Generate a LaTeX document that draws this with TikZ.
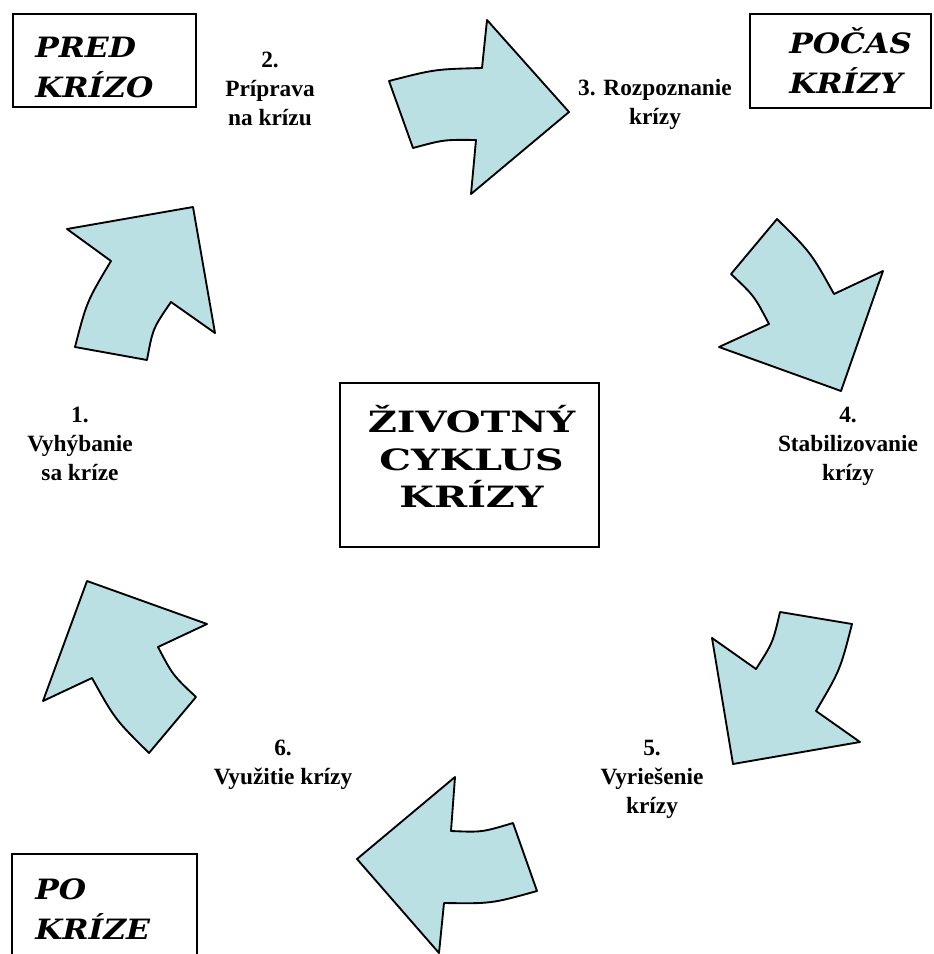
\documentclass[tikz,border=0pt]{standalone}
\usepackage{fontspec}
\setmainfont{Liberation Serif}
\newfontfamily\slabfont[FakeStretch=1.36,BoldFont={DejaVu Serif Bold}]{DejaVu Serif}
\newfontfamily\slabitfont[FakeStretch=1.12,BoldItalicFont={DejaVu Serif Bold Italic}]{DejaVu Serif}
\definecolor{arrowfill}{RGB}{187,224,227}

\begin{document}
\begin{tikzpicture}[x=0.75pt,y=-0.75pt,
  cyclearrow/.style={line width=1.4pt, fill=arrowfill, line join=round},
  framebox/.style={draw, line width=1.4pt, inner sep=0pt},
  steplabel/.style={align=center, inner sep=0pt, font=\fontsize{17.5}{21.75}\selectfont\bfseries},
  phasetext/.style={align=left, anchor=west, inner sep=0pt, font=\fontsize{21}{30}\selectfont\slabitfont\bfseries\itshape},
  titletext/.style={align=center, inner sep=0pt, font=\fontsize{22}{28}\selectfont\slabfont\bfseries}]
\clip (0,0) rectangle (933,954);
\draw[cyclearrow] (389,81) .. controls (434.8,69.2) .. (482,68) -- (487,20) -- (569,112) -- (471,194) -- (476,140) .. controls (443.9,139.6) .. (413,148) -- cycle;
\draw[cyclearrow] (777,219) .. controls (810.9,252.5) .. (834,294) -- (883,271) -- (841,391) -- (719,347) -- (769,324) .. controls (754.2,295.8) .. (731,274) -- cycle;
\draw[cyclearrow] (852,624) .. controls (840.2,670) .. (816,711) -- (860,742) -- (733,764) -- (712,638) -- (756,669) .. controls (772.9,642.6) .. (780,612) -- cycle;
\draw[cyclearrow] (455,777) -- (451,831) .. controls (482,832.3) .. (513,823) -- (537,891) .. controls (491.3,903.7) .. (444,903) -- (439,953) -- (357,859) -- cycle;
\draw[cyclearrow] (87,581) -- (207,624) -- (158,647) .. controls (172.8,675.2) .. (196,697) -- (149,753) .. controls (115.1,719.5) .. (92,678) -- (43,701) -- cycle;
\draw[cyclearrow] (67,229) -- (193,207) -- (215,333) -- (171,302) .. controls (152.8,328.5) .. (147,360) -- (75,347) .. controls (86.8,301.4) .. (111,261) -- cycle;

\node[framebox, minimum width=137.25pt, minimum height=69.75pt] (predbox) at (104.5,60.5) {};
\node[phasetext] (pred) at (35,67) {PRED\\KRÍZO};
\node[framebox, minimum width=135.75pt, minimum height=70.5pt] (pocasbox) at (840.5,61) {};
\node[phasetext] (pocas) at (789,61) {POČAS\\KRÍZY};
\node[framebox, minimum width=138.75pt, minimum height=83.25pt] (pobox) at (104.5,909.5) {};
\node[phasetext] (po) at (35,909) {PO\\KRÍZE};
\node[framebox, minimum width=194.25pt, minimum height=123pt] (cyklusbox) at (469.5,465) {};
\node[titletext] (cyklus) at (471.5,456.5) {ŽIVOTNÝ\\CYKLUS\\KRÍZY};

\node[steplabel] (step1) at (80,444) {1.\\Vyhýbanie\\sa kríze};
\node[steplabel] (step2) at (270,89) {2.\\Príprava\\na krízu};
\node[steplabel] (step3) at (655,104) {3. Rozpoznanie\\krízy};
\node[steplabel] (step4) at (848,446.5) {4.\\Stabilizovanie\\krízy};
\node[steplabel] (step5) at (652,779.5) {5.\\Vyriešenie\\krízy};
\node[steplabel] (step6) at (283,765) {6.\\Využitie krízy};
\end{tikzpicture}
\end{document}
